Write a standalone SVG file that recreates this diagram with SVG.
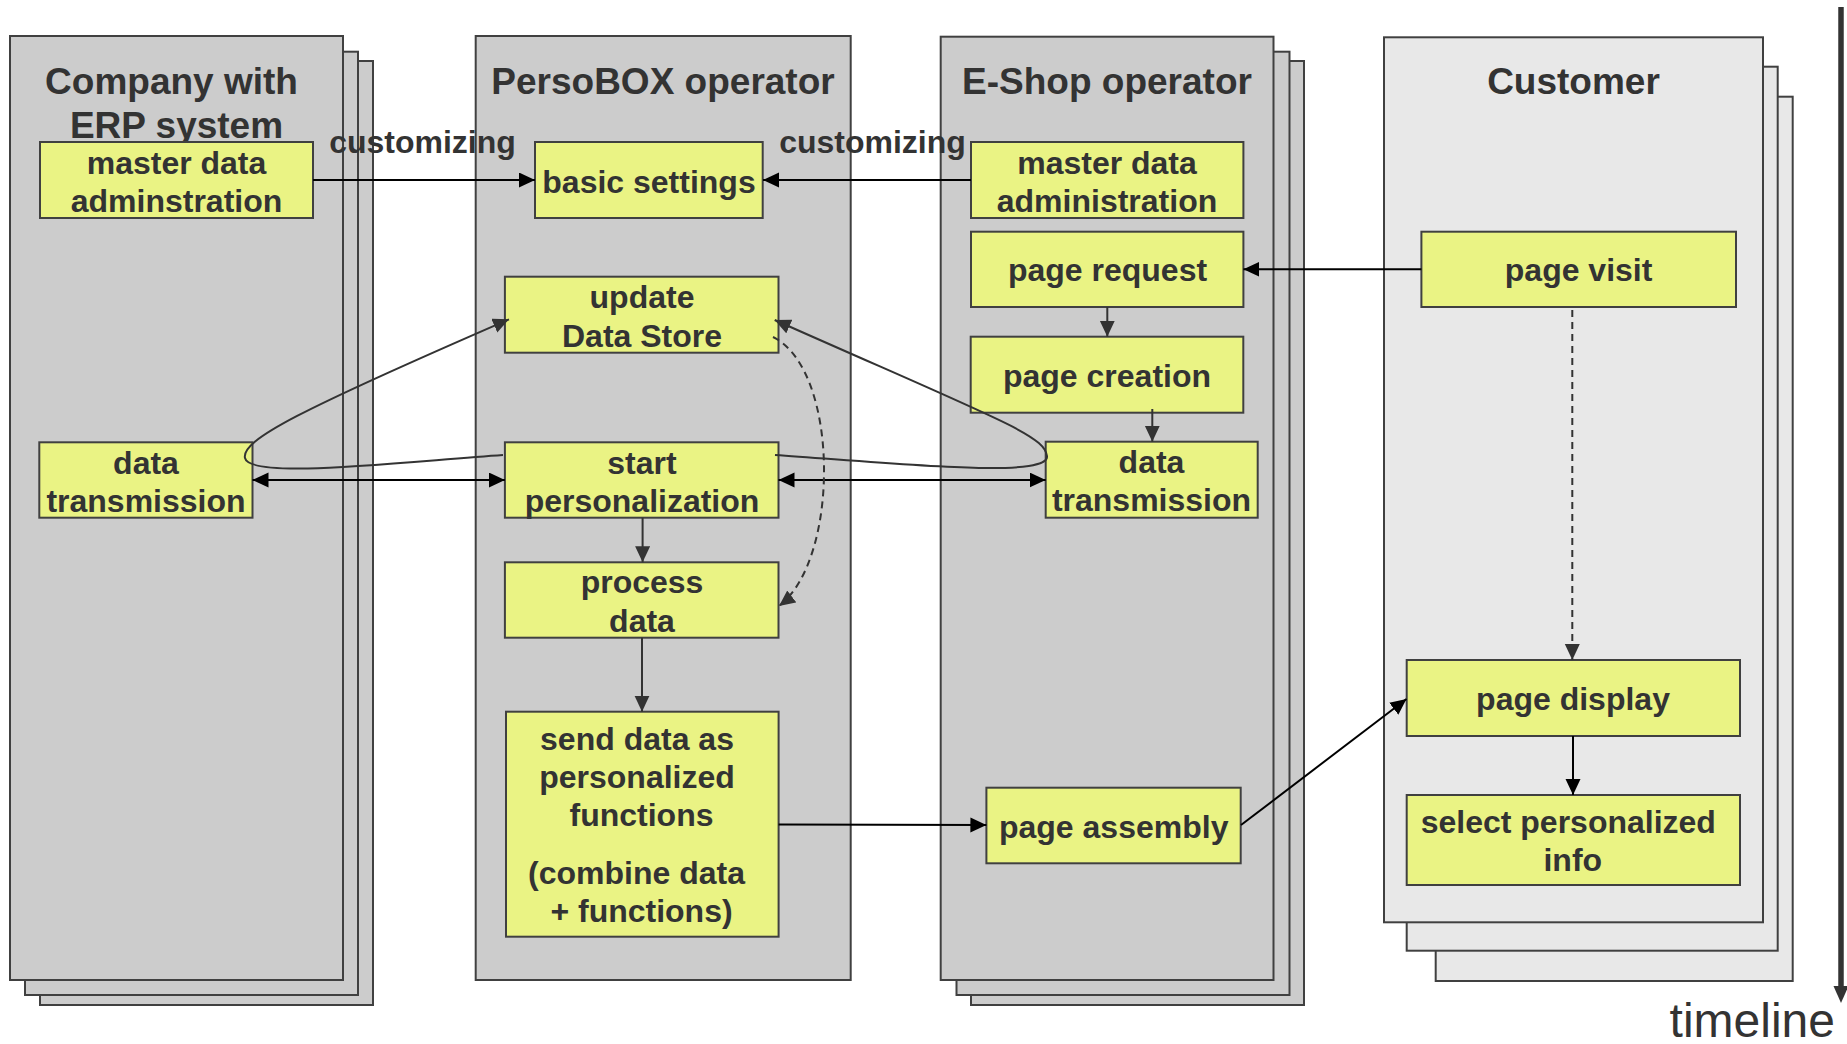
<svg xmlns="http://www.w3.org/2000/svg" width="1847" height="1044" viewBox="0 0 1847 1044">
  <style>
    .lane { fill: #cccccc; stroke: #404040; stroke-width: 2; }
    .lane-light { fill: #e8e8e8; stroke: #404040; stroke-width: 2; }
    .box { fill: #eaf384; stroke: #404040; stroke-width: 2; }
    .title { font-family: "Liberation Sans", Arial, sans-serif; font-weight: bold; font-size: 37px; fill: #333333; text-anchor: middle; }
    .label { font-family: "Liberation Sans", Arial, sans-serif; font-weight: bold; font-size: 32px; fill: #333333; text-anchor: middle; }
    .solid { fill: none; stroke: #000000; stroke-width: 2; }
    .grey { fill: none; stroke: #333333; stroke-width: 2; }
    .dashed { fill: none; stroke: #333333; stroke-width: 2; stroke-dasharray: 7 5; }
  </style>
  <defs>
    <marker id="head-black" markerUnits="userSpaceOnUse" markerWidth="17" markerHeight="16" refX="16" refY="7.5" orient="auto-start-reverse">
      <path d="M0,0 L16,7.5 L0,15 z" fill="#000000"/>
    </marker>
    <marker id="head-grey" markerUnits="userSpaceOnUse" markerWidth="17" markerHeight="16" refX="16" refY="7.5" orient="auto-start-reverse">
      <path d="M0,0 L16,7.5 L0,15 z" fill="#333333"/>
    </marker>
  </defs>

  <rect width="1847" height="1044" fill="#ffffff"/>

  <!-- swimlanes -->
  <g id="lane-company">
    <rect class="lane" x="40" y="61" width="333" height="944"/>
    <rect class="lane" x="25" y="51.7" width="333" height="943.3"/>
    <rect class="lane" x="10" y="36" width="333" height="944"/>
    <text class="title" x="171.5" y="94">Company with</text>
    <text class="title" x="176.5" y="138">ERP system</text>
  </g>
  <g id="lane-persobox">
    <rect class="lane" x="475.7" y="36" width="375" height="944"/>
    <text class="title" x="663" y="94">PersoBOX operator</text>
  </g>
  <g id="lane-eshop">
    <rect class="lane" x="971" y="61" width="333" height="944"/>
    <rect class="lane" x="956.5" y="51.7" width="333" height="943.3"/>
    <rect class="lane" x="940.7" y="36.7" width="332.8" height="943.3"/>
    <text class="title" x="1107" y="94">E-Shop operator</text>
  </g>
  <g id="lane-customer">
    <rect class="lane-light" x="1435.7" y="96.7" width="357" height="884.3"/>
    <rect class="lane-light" x="1406.7" y="66.7" width="371" height="884"/>
    <rect class="lane-light" x="1384" y="37.3" width="379" height="885"/>
    <text class="title" x="1573.5" y="94">Customer</text>
  </g>

  <!-- company nodes -->
  <g id="company-master-data">
    <rect class="box" x="40" y="142" width="273" height="76"/>
    <text class="label" x="176.5" y="173.5">master data</text>
    <text class="label" x="176.5" y="211.5">adminstration</text>
  </g>
  <g id="company-data-transmission">
    <rect class="box" x="39.3" y="442.3" width="213.2" height="75.4"/>
    <text class="label" x="146" y="473.8">data</text>
    <text class="label" x="146" y="511.5">transmission</text>
  </g>

  <!-- PersoBOX nodes -->
  <g id="basic-settings">
    <rect class="box" x="535" y="142" width="227.7" height="76"/>
    <text class="label" x="649" y="192.5">basic settings</text>
  </g>
  <g id="update-data-store">
    <rect class="box" x="504.9" y="276.7" width="273.6" height="76"/>
    <text class="label" x="642" y="308.2">update</text>
    <text class="label" x="642" y="346.5">Data Store</text>
  </g>
  <g id="start-personalization">
    <rect class="box" x="504.9" y="442.3" width="273.6" height="75.4"/>
    <text class="label" x="642" y="473.8">start</text>
    <text class="label" x="642" y="511.5">personalization</text>
  </g>
  <g id="process-data">
    <rect class="box" x="504.9" y="562.3" width="273.6" height="75.4"/>
    <text class="label" x="642" y="593.2">process</text>
    <text class="label" x="642" y="631.5">data</text>
  </g>
  <g id="send-data">
    <rect class="box" x="506" y="711.7" width="272.6" height="225"/>
    <text class="label" x="637" y="749.5">send data as</text>
    <text class="label" x="637" y="788">personalized</text>
    <text class="label" x="641.5" y="826">functions</text>
    <text class="label" x="636.5" y="884">(combine data</text>
    <text class="label" x="641.5" y="921.5">+ functions)</text>
  </g>

  <!-- E-Shop nodes -->
  <g id="eshop-master-data">
    <rect class="box" x="971" y="142" width="272.4" height="76"/>
    <text class="label" x="1107" y="173.5">master data</text>
    <text class="label" x="1107" y="211.5">administration</text>
  </g>
  <g id="page-request">
    <rect class="box" x="971" y="231.7" width="272.4" height="75.3"/>
    <text class="label" x="1107.5" y="281.2">page request</text>
  </g>
  <g id="page-creation">
    <rect class="box" x="970.7" y="336.7" width="272.6" height="76"/>
    <text class="label" x="1107" y="387.3">page creation</text>
  </g>
  <g id="eshop-data-transmission">
    <rect class="box" x="1045.7" y="441.7" width="212" height="76"/>
    <text class="label" x="1151.5" y="473.2">data</text>
    <text class="label" x="1151.5" y="511">transmission</text>
  </g>
  <g id="page-assembly">
    <rect class="box" x="986.4" y="787.7" width="254.3" height="75.6"/>
    <text class="label" x="1113.7" y="838.3">page assembly</text>
  </g>

  <!-- Customer nodes -->
  <g id="page-visit">
    <rect class="box" x="1421.4" y="231.7" width="314.6" height="75.3"/>
    <text class="label" x="1578.6" y="281.2">page visit</text>
  </g>
  <g id="page-display">
    <rect class="box" x="1406.7" y="660" width="333.3" height="76"/>
    <text class="label" x="1573" y="709.8">page display</text>
  </g>
  <g id="select-info">
    <rect class="box" x="1406.7" y="795" width="333.3" height="90"/>
    <text class="label" x="1568.3" y="833">select personalized</text>
    <text class="label" x="1572.8" y="870.7">info</text>
  </g>

  <!-- connectors -->
  <g id="connectors">
    <line class="solid" x1="313" y1="180" x2="535" y2="180" marker-end="url(#head-black)"/>
    <line class="solid" x1="971" y1="180" x2="763" y2="180" marker-end="url(#head-black)"/>
    <line class="solid" x1="1421.4" y1="269.3" x2="1243.4" y2="269.3" marker-end="url(#head-black)"/>
    <line class="grey" x1="1107.3" y1="307" x2="1107.3" y2="336.7" marker-end="url(#head-grey)"/>
    <line class="grey" x1="1152.3" y1="409" x2="1152.3" y2="441.7" marker-end="url(#head-grey)"/>
    <line class="dashed" x1="1572.3" y1="310" x2="1572.3" y2="660" marker-end="url(#head-grey)"/>
    <line class="solid" x1="1573" y1="736" x2="1573" y2="795" marker-end="url(#head-black)"/>
    <line class="solid" x1="1241" y1="825" x2="1406.5" y2="699" marker-end="url(#head-black)"/>
    <line class="solid" x1="778.6" y1="824.5" x2="986.4" y2="825" marker-end="url(#head-black)"/>
    <line class="grey" x1="642" y1="637.7" x2="642" y2="711.7" marker-end="url(#head-grey)"/>
    <line class="grey" x1="642.6" y1="517.7" x2="642.6" y2="562.3" marker-end="url(#head-grey)"/>
    <line class="solid" x1="252.5" y1="480" x2="504.9" y2="480" marker-start="url(#head-black)" marker-end="url(#head-black)"/>
    <line class="solid" x1="778.5" y1="480" x2="1045.7" y2="480" marker-start="url(#head-black)" marker-end="url(#head-black)"/>
    <path class="grey" d="M503,455 C400,462 250,480 245,458 C241,440 300,410 509,319.3" marker-end="url(#head-grey)"/>
    <path class="grey" d="M775,455 C880,462 1050,480 1047,456 C1044,435 1000,420 774.7,320" marker-end="url(#head-grey)"/>
    <path class="dashed" d="M773,337 C840,370 840,560 779,606" marker-end="url(#head-grey)"/>
  </g>

  <!-- edge labels -->
  <text class="label" x="422.5" y="153">customizing</text>
  <text class="label" x="872.5" y="153">customizing</text>

  <!-- time axis -->
  <g id="timeline">
    <line x1="1841" y1="7" x2="1841" y2="988" stroke="#333333" stroke-width="5.5"/>
    <polygon points="1833.5,986 1848.5,986 1841,1003" fill="#333333"/>
    <text x="1835" y="1037" font-family="Liberation Sans, Arial, sans-serif" font-size="48" fill="#333333" text-anchor="end">timeline</text>
  </g>
</svg>
